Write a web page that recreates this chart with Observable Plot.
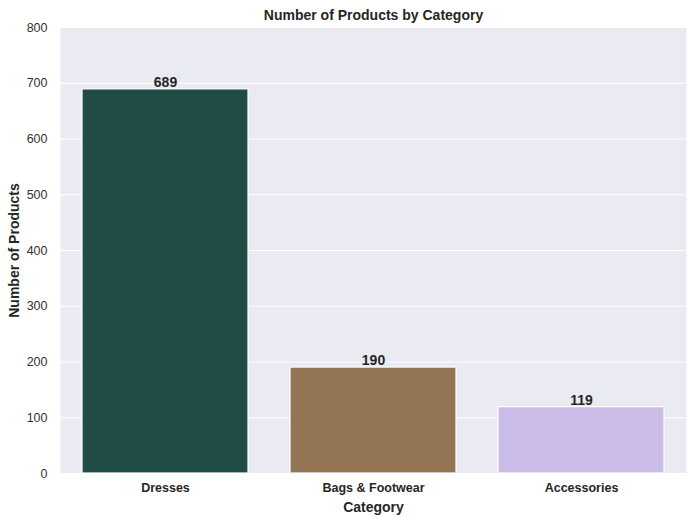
<!DOCTYPE html>
<html>
<head>
<meta charset="utf-8">
<script src="https://cdn.jsdelivr.net/npm/d3@7"></script>
<script src="https://cdn.jsdelivr.net/npm/@observablehq/plot@0.6"></script>
<style>
  html, body { margin: 0; padding: 0; background: #fff; }
  #chart svg { display: block; }
</style>
</head>
<body>
<div id="chart"></div>
<script>
const categories = ["Dresses", "Bags & Footwear", "Accessories"];
const counts = [689, 190, 119];
const barColors = ["#1f4d45", "#937553", "#cabce6"];
const yTicks = [0, 100, 200, 300, 400, 500, 600, 700, 800];

const data = categories.map((c, i) => ({category: c, count: counts[i]}));

const font = "'Liberation Sans', Arial, Helvetica, sans-serif";

const chart = Plot.plot({
  width: 694,
  height: 521,
  marginLeft: 60,
  marginRight: 8,
  marginTop: 27,
  marginBottom: 48,
  style: {fontFamily: font, fontSize: "12px", color: "#333", background: "#fff", overflow: "visible"},
  x: {domain: categories, paddingInner: 0.2, paddingOuter: 0.1, label: null},
  y: {domain: [0, 800], label: null},
  color: {domain: categories, range: barColors},
  marks: [
    Plot.frame({fill: "#eaeaf2", stroke: null}),
    Plot.gridY(yTicks, {stroke: "#fff", strokeOpacity: 1, strokeWidth: 1}),
    Plot.axisY(yTicks, {tickSize: 0, tickPadding: 13, fontSize: 12.5, fill: "#333", label: null}),
    Plot.axisX({tickSize: 0, tickPadding: 10, fontSize: 12.5, fontWeight: "bold", fill: "#262626", label: null}),
    Plot.barY(data, {x: "category", y: "count", fill: "category", stroke: "#fff", strokeWidth: 1.2}),
    Plot.text(data, {x: "category", y: "count", text: d => String(d.count), dy: -7, fontSize: 14, fontWeight: "bold", fill: "#262626"}),
    Plot.text(["Number of Products by Category"], {frameAnchor: "top", dy: -17, fontSize: 14, fontWeight: "bold", fill: "#262626"}),
    Plot.text(["Category"], {frameAnchor: "bottom", dy: 38, fontSize: 14, fontWeight: "bold", fill: "#262626"}),
    Plot.text(["Number of Products"], {frameAnchor: "left", textAnchor: "middle", dx: -46, rotate: -90, fontSize: 14, fontWeight: "bold", fill: "#262626"})
  ]
});
document.getElementById("chart").appendChild(chart);
</script>
</body>
</html>
